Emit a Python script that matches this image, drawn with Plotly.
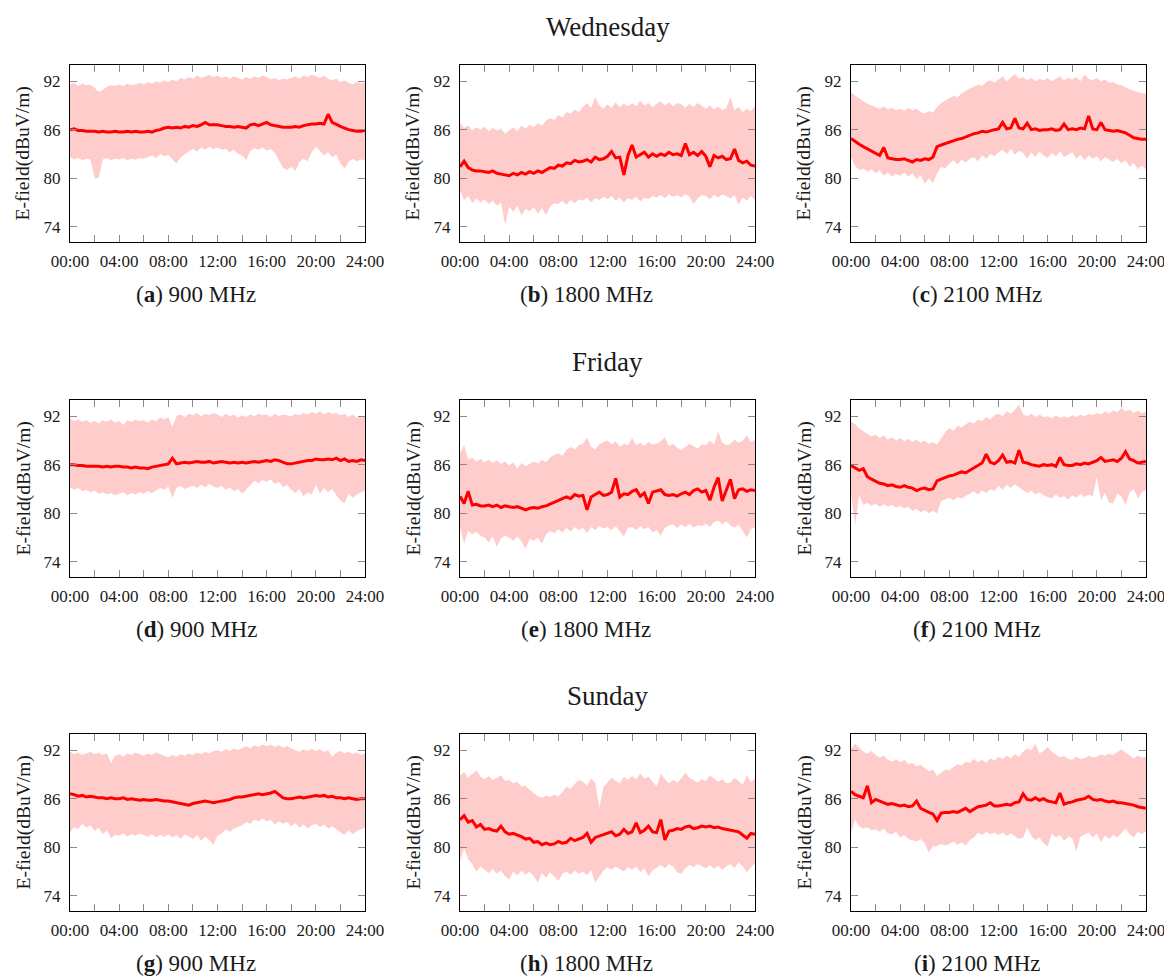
import plotly.graph_objects as go

# time grid (hours, 20-minute steps)
hours = [i / 3 for i in range(73)]

x_tick_vals = [0, 2, 4, 6, 8, 10, 12, 14, 16, 18, 20, 22, 24]
x_tick_text = ["00:00", "", "04:00", "", "08:00", "", "12:00", "", "16:00", "", "20:00", "", "24:00"]
y_tick_vals = [74, 80, 86, 92]

day_titles = ["Wednesday", "Friday", "Sunday"]
band_names = ["900 MHz", "1800 MHz", "2100 MHz"]
letters = ["a", "b", "c", "d", "e", "f", "g", "h", "i"]

# ---------------- Wednesday ----------------
wed_900_upper = [91.5, 91.8, 91.4, 91.7, 91.5, 91.6, 91.2, 90.7, 90.9, 91.3, 91.5, 91.4,
                 91.6, 91.4, 91.7, 91.5, 91.6, 91.8, 91.6, 91.9, 91.7, 92.0, 91.8, 92.1,
                 91.9, 92.2, 92.0, 92.4, 92.2, 92.5, 92.3, 92.7, 92.4, 92.6, 92.8, 92.5,
                 92.7, 92.4, 92.6, 92.3, 92.6, 92.4, 92.2, 92.5, 92.3, 92.6, 92.4, 92.7,
                 92.5, 92.2, 92.4, 92.1, 92.3, 92.2, 92.4, 92.6, 92.3, 92.7, 92.5, 92.8,
                 92.6, 92.4, 92.7, 92.3, 92.1, 92.3, 91.9, 92.1, 91.8, 91.6, 91.9, 91.7, 91.8]
wed_900_lower = [82.6, 82.3, 82.5, 82.2, 82.4, 82.3, 80.0, 80.0, 82.3, 82.5, 82.2, 82.4,
                 82.3, 82.5, 82.2, 82.4, 82.3, 82.5, 82.4, 82.6, 82.8, 82.5, 83.0, 82.7,
                 82.9, 82.3, 81.8, 82.6, 83.0, 83.3, 83.6, 83.3, 83.8, 83.5, 83.9, 83.6,
                 83.8, 83.5, 83.6, 83.2, 83.5, 83.0, 82.8, 82.2, 83.4, 83.7, 83.5, 83.8,
                 83.4, 83.6, 83.1, 82.2, 81.3, 81.0, 81.4, 80.9, 82.0, 82.4, 82.1, 83.2,
                 83.9, 83.4, 82.8, 83.2, 82.6, 82.9, 81.8, 81.2, 82.0, 82.4, 82.1, 82.3, 82.2]
wed_900_mean = [86.0, 86.1, 85.9, 85.9, 85.8, 85.8, 85.8, 85.7, 85.8, 85.7, 85.7, 85.8,
                85.7, 85.7, 85.8, 85.7, 85.8, 85.7, 85.7, 85.8, 85.7, 85.9, 86.0, 86.2,
                86.3, 86.2, 86.3, 86.2, 86.4, 86.3, 86.5, 86.4, 86.6, 86.9, 86.6, 86.6,
                86.6, 86.5, 86.4, 86.4, 86.3, 86.4, 86.3, 86.2, 86.6, 86.7, 86.5, 86.7,
                86.9, 86.6, 86.5, 86.4, 86.3, 86.3, 86.3, 86.4, 86.3, 86.5, 86.6, 86.7,
                86.7, 86.8, 86.7, 87.9, 86.9, 86.6, 86.4, 86.2, 86.0, 85.9, 85.8, 85.8, 85.9]

wed_1800_upper = [86.9, 86.2, 86.5, 85.9, 86.3, 86.0, 86.4, 85.8, 86.2, 85.9, 86.1, 85.5,
                  85.9, 86.3, 85.8, 86.5, 86.1, 86.6, 86.3, 86.8, 86.5, 87.1, 87.4, 87.2,
                  87.8, 87.5, 88.2, 88.0, 88.5, 88.2, 88.8, 89.3, 88.7, 90.0, 89.0, 88.6,
                  89.1, 88.7, 89.4, 88.8, 89.2, 88.9, 89.3, 88.9, 89.6, 89.0, 89.3, 88.8,
                  89.2, 89.5, 89.0, 89.4, 88.9, 89.3, 89.1, 88.7, 89.2, 88.8, 89.3, 88.9,
                  88.6, 89.0, 88.5, 88.9, 88.4, 88.7, 90.0, 88.4, 88.8, 88.2, 88.6, 88.3, 88.9]
wed_1800_lower = [78.5, 77.3, 77.8, 76.9, 77.5, 77.0, 77.4, 76.8, 77.2, 76.6, 77.0, 74.2,
                  76.5, 75.8, 76.6, 75.4, 76.2, 75.9, 76.4, 75.6, 76.3, 75.4, 76.5, 76.9,
                  76.8, 77.2, 76.7, 77.3, 76.9, 77.4, 77.2, 77.6, 77.0, 77.5, 77.3, 77.7,
                  77.4, 77.8, 77.2, 77.6, 77.0, 77.5, 77.3, 77.7, 77.1, 77.6, 77.4, 77.8,
                  77.6, 77.9, 77.5, 78.0, 77.7, 77.9, 77.6, 78.0, 77.7, 76.8, 77.5, 77.9,
                  77.8, 77.4, 77.9, 77.6, 78.0, 77.7, 77.5, 77.9, 76.7, 77.6, 77.2, 77.8, 77.3]
wed_1800_mean = [81.4, 82.1, 81.3, 81.0, 80.9, 80.9, 80.8, 80.7, 80.9, 80.6, 80.5, 80.4,
                 80.3, 80.6, 80.4, 80.7, 80.5, 80.8, 80.6, 80.9, 80.7, 81.0, 81.3, 81.2,
                 81.6, 81.5, 81.9, 81.8, 82.2, 82.0, 82.1, 82.3, 82.0, 82.6, 82.3, 82.4,
                 82.7, 83.3, 82.5, 82.6, 80.4, 82.8, 84.1, 82.6, 82.9, 83.2, 82.6, 83.0,
                 82.7, 83.0, 82.8, 83.2, 82.9, 83.0, 82.8, 84.3, 82.9, 83.2, 82.8, 83.3,
                 82.7, 81.4, 82.8, 82.5, 82.7, 82.3, 82.4, 83.6, 82.2, 81.9, 82.1, 81.6, 81.5]

wed_2100_upper = [90.6, 90.2, 89.8, 89.5, 89.2, 89.0, 88.8, 88.6, 88.9, 88.5, 88.7, 88.4,
                  88.6, 88.3, 88.7, 88.4, 88.6, 88.2, 88.0, 88.3, 88.1, 88.8, 89.3, 89.6,
                  89.8, 90.2, 90.0, 90.5, 90.8, 91.1, 91.3, 91.6, 91.4, 91.9, 92.1, 91.8,
                  92.2, 92.6, 92.0, 92.4, 92.9, 92.3, 92.5, 92.1, 92.4, 92.0, 92.3, 92.1,
                  92.4, 92.0, 92.3, 92.6, 92.1, 92.4, 92.2, 92.5, 92.0, 92.8, 92.3, 92.1,
                  92.4, 92.0, 92.2, 91.8, 91.9, 91.6, 91.5, 91.2, 91.0, 90.8, 90.6, 90.5, 90.4]
wed_2100_lower = [82.6, 81.5, 81.0, 81.2, 80.8, 81.1, 80.6, 81.0, 80.3, 80.7, 80.2, 80.5,
                  80.3, 80.7, 80.2, 80.6, 79.9, 80.4, 79.3, 80.0, 79.4, 80.6, 81.4, 81.2,
                  81.8, 82.2, 81.7, 82.3, 81.9, 82.4, 82.6, 82.1, 82.8, 82.4, 83.0, 82.7,
                  83.2, 83.5, 83.0, 83.6, 82.9, 83.4, 83.1, 82.4, 83.2, 82.6, 83.3, 82.8,
                  82.5, 83.1, 82.7, 83.3, 82.6, 82.9, 83.2, 82.4, 82.9, 82.2, 82.8, 82.4,
                  82.7, 82.1, 82.6, 82.3, 82.0, 82.4, 81.8, 82.2, 81.4, 81.9, 81.1, 81.6, 81.0]
wed_2100_mean = [84.9, 84.5, 84.2, 83.9, 83.6, 83.3, 83.0, 82.8, 83.8, 82.5, 82.4, 82.3,
                 82.3, 82.4, 82.2, 82.0, 82.3, 82.2, 82.4, 82.3, 82.6, 83.9, 84.1, 84.3,
                 84.5, 84.6, 84.8, 84.9, 85.1, 85.3, 85.5, 85.6, 85.8, 85.7, 85.9, 86.0,
                 86.1, 86.9, 86.1, 86.2, 87.4, 86.2, 86.1, 86.8, 86.0, 86.1, 85.9, 86.0,
                 86.0, 86.1, 85.9, 86.0, 86.7, 86.0, 86.1, 86.0, 86.2, 86.1, 87.7, 86.1,
                 86.0, 86.9, 86.0, 85.9, 85.8, 85.9, 85.7, 85.6, 85.3, 85.0, 84.9, 84.8, 84.8]

# ---------------- Friday ----------------
fri_900_upper = [91.7, 91.4, 91.6, 91.3, 91.5, 91.2, 91.4, 91.1, 91.5, 91.3, 91.6, 91.2,
                 91.4, 90.9, 91.5, 91.3, 91.6, 91.4, 91.5, 91.2, 91.6, 91.4, 91.8, 91.6,
                 91.9, 90.7, 92.0, 92.2, 91.9, 92.3, 92.1, 92.4, 92.0, 92.3, 92.1, 92.4,
                 92.2, 91.9, 92.3, 92.0, 92.2, 91.8, 92.1, 91.9, 92.2, 92.0, 92.3, 92.1,
                 92.2, 91.9, 92.3, 92.0, 92.2, 92.1, 92.0, 92.3, 92.1, 92.4, 92.2, 92.5,
                 92.3, 92.6, 92.2, 92.5, 92.3, 92.4, 92.1, 92.3, 91.9, 92.2, 91.8, 92.0, 91.9]
fri_900_lower = [83.2, 82.9, 83.1, 82.7, 82.9, 82.6, 82.8, 82.4, 82.6, 82.3, 82.5, 82.2,
                 82.4, 82.6, 82.2, 82.5, 82.3, 82.6, 82.4, 82.7, 82.5, 82.8, 83.1, 82.9,
                 83.3, 81.9, 83.1, 83.4, 83.0, 83.2, 83.4, 83.1, 83.5, 83.2, 83.6, 83.3,
                 83.1, 83.4, 82.9, 83.2, 82.7, 83.0, 82.4, 82.9, 83.5, 84.0, 83.7, 84.1,
                 83.9, 84.2, 83.6, 83.9, 83.2, 83.5, 82.9, 82.5, 83.0, 82.1, 82.6, 82.3,
                 83.5, 82.4, 83.1, 82.6, 83.0, 82.2, 81.6, 81.2, 82.4, 81.9, 82.3, 82.6, 82.8]
fri_900_mean = [86.0, 86.0, 85.9, 85.9, 85.8, 85.8, 85.8, 85.8, 85.7, 85.8, 85.7, 85.8,
                85.8, 85.7, 85.7, 85.6, 85.7, 85.6, 85.6, 85.5, 85.7, 85.8, 85.9, 86.0,
                86.1, 86.8, 86.1, 86.2, 86.3, 86.2, 86.3, 86.4, 86.3, 86.3, 86.4, 86.2,
                86.3, 86.4, 86.3, 86.2, 86.3, 86.2, 86.3, 86.2, 86.3, 86.4, 86.3, 86.4,
                86.5, 86.4, 86.6, 86.5, 86.3, 86.1, 86.1, 86.2, 86.3, 86.4, 86.5, 86.5,
                86.7, 86.6, 86.6, 86.7, 86.6, 86.8, 86.5, 86.7, 86.4, 86.5, 86.4, 86.6, 86.5]

fri_1800_upper = [87.4, 88.4, 86.6, 86.9, 86.4, 86.7, 86.3, 86.6, 86.2, 86.5, 86.1, 86.4,
                  85.9, 86.3, 85.5, 86.2, 85.8, 86.1, 86.4, 86.1, 86.6, 86.3, 86.9, 87.2,
                  87.4, 87.1, 87.8, 88.2, 87.9, 88.4, 88.6, 89.4, 88.2, 87.9, 88.5, 88.8,
                  89.0, 88.5, 88.9, 88.2, 88.6, 88.4, 89.3, 88.4, 88.7, 88.3, 88.8, 88.5,
                  88.6, 88.9, 89.4, 88.3, 88.6, 88.1, 87.8, 88.2, 88.6, 88.3, 88.0, 88.5,
                  88.4, 89.0, 88.5, 90.1, 88.7, 88.4, 88.6, 89.1, 88.7, 89.0, 89.6, 88.8, 89.1]
fri_1800_lower = [78.3, 76.2, 77.8, 77.4, 77.7, 77.2, 77.0, 76.4, 77.1, 75.8, 76.9, 77.2,
                  77.0, 76.6, 77.1, 76.5, 75.6, 76.8, 76.6, 77.0, 76.2, 77.4, 77.8, 77.5,
                  78.0, 77.6, 78.2, 77.7, 78.3, 77.9, 78.2, 77.5, 78.3, 77.9, 78.4, 78.1,
                  78.3, 77.9, 78.4, 77.8, 77.1, 78.2, 78.3, 77.9, 78.4, 78.0, 78.3, 77.6,
                  77.9, 77.2, 78.2, 78.5, 78.6, 78.2, 78.6, 78.3, 78.7, 78.2, 78.5, 78.4,
                  78.7, 78.3, 78.9, 79.1, 78.6, 79.0, 78.5, 78.2, 78.6, 77.8, 77.0, 78.0, 78.3]
fri_1800_mean = [82.1, 81.2, 82.7, 81.0, 81.1, 80.9, 80.9, 81.0, 80.8, 81.0, 80.7, 80.9,
                 80.8, 80.7, 80.8, 80.6, 80.4, 80.6, 80.7, 80.6, 80.8, 80.9, 81.1, 81.3,
                 81.6, 81.8, 82.0, 81.8, 82.3, 82.1, 82.2, 80.4, 82.0, 82.3, 82.6, 82.2,
                 82.3, 82.6, 84.3, 82.0, 82.4, 82.3, 82.7, 82.9, 82.1, 82.5, 81.2, 82.6,
                 82.8, 82.9, 82.3, 82.2, 82.3, 82.1, 82.4, 82.6, 82.3, 82.8, 83.0, 82.6,
                 82.8, 81.6, 83.2, 84.4, 81.5, 82.9, 84.2, 81.8, 82.9, 83.0, 82.7, 82.9, 82.8]

fri_2100_upper = [91.3, 91.0, 90.5, 90.1, 89.8, 89.5, 89.7, 89.3, 89.6, 89.1, 89.4, 89.0,
                  89.3, 88.9, 89.2, 88.8, 89.1, 88.7, 89.0, 88.6, 88.8, 88.5, 89.3, 90.0,
                  90.5, 90.2, 90.8, 90.6, 91.0, 91.3, 91.1, 91.6, 91.4, 91.9, 91.6, 92.1,
                  92.3, 92.0, 92.6, 92.3, 92.8, 93.4, 92.2, 92.0, 92.3, 91.9, 92.2, 91.9,
                  92.0, 91.7, 92.1, 91.8, 92.0, 91.8, 92.1, 91.9, 92.2, 92.0, 92.3, 92.1,
                  92.4, 92.2, 92.6, 92.3, 92.7, 92.5, 93.0, 92.6, 92.8, 92.4, 92.7, 92.4, 92.5]
fri_2100_lower = [82.4, 78.5, 82.2, 81.0, 81.3, 80.9, 81.2, 80.8, 81.1, 80.8, 81.0, 80.7,
                  80.9, 80.6, 80.8, 80.3, 80.5, 80.1, 80.4, 80.0, 80.3, 80.0, 81.5, 81.7,
                  81.9, 81.6, 82.0, 81.8, 82.1, 82.4, 82.7, 82.3, 82.8, 82.5, 83.0, 82.7,
                  83.4, 82.9, 83.5, 83.1, 83.6, 83.2, 82.9, 82.5, 82.8, 82.3, 82.6, 82.2,
                  82.0, 81.8, 82.3, 81.9, 82.1, 81.7, 82.2, 81.9, 82.4, 82.0, 82.3, 82.1,
                  84.5, 81.6, 82.5, 81.3, 81.2, 82.4, 82.1, 81.0, 82.6, 83.0, 81.8, 82.6, 82.9]
fri_2100_mean = [85.9, 85.6, 85.3, 85.5, 84.5, 84.2, 83.9, 83.7, 83.6, 83.4, 83.5, 83.3,
                 83.2, 83.4, 83.2, 83.1, 82.8, 83.0, 83.1, 82.9, 83.0, 84.0, 84.2, 84.4,
                 84.6, 84.7, 84.9, 85.1, 85.0, 85.3, 85.5, 85.8, 86.2, 87.3, 86.3, 86.1,
                 86.5, 87.2, 86.3, 86.4, 86.2, 87.8, 86.3, 86.2, 86.0, 85.9, 85.8, 86.0,
                 85.9, 86.0, 85.8, 86.9, 86.0, 85.9, 85.9, 86.1, 86.0, 86.2, 86.1, 86.3,
                 86.5, 86.9, 86.4, 86.5, 86.6, 86.4, 86.8, 87.6, 86.7, 86.5, 86.2, 86.3, 86.4]

# ---------------- Sunday ----------------
sun_900_upper = [91.8, 91.5, 91.7, 91.4, 91.6, 91.8, 91.5, 91.7, 91.4, 91.6, 90.4, 91.3,
                 91.5, 91.2, 91.6, 91.4, 91.7, 91.5, 91.3, 91.6, 91.4, 91.7, 91.5, 91.3,
                 91.1, 91.4, 91.2, 91.5, 91.3, 91.6, 91.4, 91.7, 91.5, 91.8, 91.6, 91.9,
                 92.0, 91.8, 92.1, 91.9, 92.2, 92.0, 92.3, 92.5, 92.2, 92.6, 92.4, 92.7,
                 92.5, 92.7, 92.4, 92.6, 92.3, 92.5, 92.2, 92.0, 91.8, 92.1, 91.9, 92.2,
                 91.9, 92.1, 91.8, 92.0, 91.2, 91.7, 91.9, 91.6, 91.8, 91.5, 91.7, 91.4, 91.6]
sun_900_lower = [81.8, 82.5, 82.2, 82.9, 82.4, 82.7, 82.0, 82.4, 81.6, 82.1, 81.1, 81.5,
                 81.4, 81.7, 81.3, 81.6, 81.4, 81.7, 81.5, 81.3, 81.6, 81.2, 81.5, 81.3,
                 81.6, 81.2, 81.5, 81.0, 81.6, 81.3, 81.0, 81.5, 80.8, 81.3, 80.9, 80.3,
                 81.4, 81.7, 82.2, 81.9, 82.3, 82.5, 82.7, 83.1, 82.9, 83.4, 83.2, 83.5,
                 83.2, 83.4, 82.8, 83.2, 82.9, 83.1, 82.6, 83.0, 82.4, 82.8, 82.3, 82.7,
                 82.9, 82.5, 82.8, 82.3, 82.6, 82.2, 81.9, 81.5, 82.1, 81.6, 82.0, 82.2, 82.4]
sun_900_mean = [86.6, 86.5, 86.3, 86.4, 86.2, 86.3, 86.2, 86.1, 86.1, 86.0, 86.1, 86.0,
                86.0, 86.1, 85.9, 86.0, 85.9, 85.8, 85.9, 85.8, 85.8, 85.9, 85.8, 85.7,
                85.7, 85.6, 85.5, 85.4, 85.3, 85.2, 85.4, 85.5, 85.6, 85.7, 85.6, 85.5,
                85.6, 85.7, 85.8, 85.9, 86.1, 86.2, 86.2, 86.3, 86.4, 86.5, 86.6, 86.5,
                86.6, 86.7, 86.9, 86.5, 86.1, 86.0, 86.0, 86.1, 86.2, 86.1, 86.2, 86.3,
                86.4, 86.3, 86.4, 86.2, 86.3, 86.1, 86.1, 86.0, 86.1, 86.0, 85.9, 86.0, 86.0]

sun_1800_upper = [88.9, 89.3, 88.6, 89.0, 89.5, 88.7, 88.4, 88.8, 88.3, 88.6, 88.9, 88.2,
                  88.3, 87.9, 88.1, 87.5, 87.6, 87.1, 86.7, 86.3, 86.1, 86.4, 86.2, 86.5,
                  86.3, 86.8, 87.5, 87.2, 87.8, 88.3, 88.1, 87.6, 88.5, 88.0, 84.9, 87.4,
                  88.0, 88.6, 88.2, 87.9, 88.7, 88.3, 88.8, 88.4, 89.1, 88.5, 88.7, 88.1,
                  87.5, 89.1, 88.4, 87.9, 88.3, 88.0, 88.5, 89.2, 88.6, 88.3, 88.0, 88.4,
                  88.2, 88.9, 88.5, 88.1, 88.4, 87.9, 88.0, 88.6, 88.2, 87.7, 88.9, 88.1, 88.5]
sun_1800_lower = [78.3, 79.9, 78.5, 77.9, 77.0, 77.6, 77.2, 76.8, 77.3, 76.7, 77.1, 76.4,
                  76.0, 77.0, 76.5, 77.1, 76.6, 77.0, 76.4, 75.6, 76.8, 76.2, 76.9, 76.4,
                  75.8, 76.7, 77.0, 76.6, 77.1, 76.7, 77.0, 76.5, 77.2, 75.6, 76.4, 77.1,
                  77.5, 77.2, 77.6, 77.3, 77.0, 77.5, 77.2, 77.6, 76.9, 77.4, 76.4, 77.1,
                  77.5, 77.8, 77.4, 77.9, 77.6, 76.9, 76.7, 77.4, 77.8, 77.5, 77.9, 77.6,
                  77.4, 77.8, 77.3, 77.7, 77.2, 77.6, 77.9, 77.4, 78.1, 77.6, 76.9, 77.5, 78.0]
sun_1800_mean = [83.4, 83.9, 83.1, 83.3, 82.5, 82.8, 82.2, 82.3, 82.1, 82.0, 82.6, 81.9,
                 81.6, 81.7, 81.5, 81.3, 81.0, 81.1, 80.6, 80.7, 80.3, 80.5, 80.3, 80.4,
                 80.7, 80.5, 80.6, 81.1, 80.8, 81.0, 81.2, 81.7, 80.6, 81.2, 81.4, 81.6,
                 81.7, 81.9, 81.4, 81.6, 82.2, 81.7, 81.9, 83.0, 81.8, 82.1, 82.6, 81.9,
                 81.8, 83.4, 80.9, 82.0, 82.1, 82.3, 82.2, 82.5, 82.6, 82.3, 82.4, 82.6,
                 82.5, 82.6, 82.4, 82.5, 82.3, 82.2, 82.1, 82.0, 81.9, 81.5, 81.1, 81.7, 81.6]

sun_2100_upper = [92.2, 92.8, 92.3, 91.8, 91.6, 91.9, 91.4, 91.1, 91.3, 90.8, 90.6, 90.9,
                  90.5, 90.8, 90.3, 90.4, 90.0, 90.2, 89.8, 89.4, 89.6, 88.8, 89.2, 89.6,
                  89.5, 89.9, 90.3, 90.1, 90.6, 90.4, 90.9, 90.5, 90.8, 90.4, 91.0, 90.7,
                  91.2, 90.9, 91.3, 91.0, 91.5, 91.2, 91.8, 92.2, 92.0, 92.8, 91.6, 91.9,
                  92.4, 91.8, 91.4, 91.1, 91.3, 90.9, 90.8, 91.2, 90.9, 91.0, 91.3, 91.1,
                  91.2, 91.5, 91.3, 91.6, 91.4, 91.8, 92.1, 91.7, 91.4, 91.0, 91.3, 91.1, 91.2]
sun_2100_lower = [81.8, 83.4, 82.6, 82.3, 82.5, 82.1, 82.2, 81.9, 82.3, 81.7, 81.6, 81.9,
                  81.2, 81.5, 81.0, 80.8, 80.7, 81.0, 80.5, 79.3, 80.1, 80.1, 80.4, 80.2,
                  80.4, 80.7, 80.3, 80.6, 80.2, 80.9, 81.2, 81.8, 81.5, 81.9, 81.6, 81.8,
                  81.5, 81.8, 81.4, 81.7, 81.3, 81.0, 81.2, 82.4, 81.4, 80.9, 81.2, 80.5,
                  80.1, 81.7, 81.2, 81.5, 80.8, 81.3, 81.1, 79.5, 81.3, 81.6, 81.8, 81.2,
                  81.7, 80.6, 81.4, 81.0, 81.5, 81.2, 81.8, 82.3, 81.6, 81.2, 81.9, 81.6, 82.0]
sun_2100_mean = [86.9, 86.5, 86.3, 86.1, 87.6, 85.5, 85.9, 85.7, 85.5, 85.3, 85.4, 85.2,
                 85.1, 85.2, 85.0, 85.1, 85.7, 84.8, 84.5, 84.3, 84.1, 83.3, 84.2, 84.3,
                 84.3, 84.4, 84.3, 84.5, 84.8, 84.4, 84.7, 85.0, 85.1, 85.2, 85.5, 85.1,
                 85.1, 85.2, 85.3, 85.2, 85.5, 85.6, 86.6, 85.9, 85.8, 86.1, 85.8, 86.0,
                 85.7, 85.6, 85.5, 86.7, 85.3, 85.5, 85.6, 85.8, 85.9, 86.0, 86.3, 85.9,
                 85.8, 85.9, 85.7, 85.6, 85.7, 85.5, 85.5, 85.4, 85.3, 85.2, 85.0, 84.9, 84.8]

panels = [
    (wed_900_lower, wed_900_upper, wed_900_mean),
    (wed_1800_lower, wed_1800_upper, wed_1800_mean),
    (wed_2100_lower, wed_2100_upper, wed_2100_mean),
    (fri_900_lower, fri_900_upper, fri_900_mean),
    (fri_1800_lower, fri_1800_upper, fri_1800_mean),
    (fri_2100_lower, fri_2100_upper, fri_2100_mean),
    (sun_900_lower, sun_900_upper, sun_900_mean),
    (sun_1800_lower, sun_1800_upper, sun_1800_mean),
    (sun_2100_lower, sun_2100_upper, sun_2100_mean),
]

# ---------------- layout geometry (page pixels) ----------------
# the page body has an 8px margin, so the figure is made 8px smaller and every
# page position is shifted by 8px into figure coordinates
OFF = 8
W, H = 1172 - OFF, 977 - OFF
col_left = [70 - OFF, 460 - OFF, 851 - OFF]
col_w = 295
row_top = [65 - OFF, 400 - OFF, 734 - OFF]
row_h = 177
title_x = 608 - OFF

FONT = "Liberation Serif"
BAND = "#ffcccc"
LINE = "#ff0000"

fig = go.Figure()
layout = dict(
    width=W, height=H, margin=dict(l=0, r=0, t=0, b=0, autoexpand=False),
    paper_bgcolor="white", plot_bgcolor="white", showlegend=False,
    font=dict(family=FONT, size=17, color="#1a1a1a"),
)
annotations = []

for k, (lo, up, me) in enumerate(panels):
    r, c = divmod(k, 3)
    ax = "" if k == 0 else str(k + 1)
    xa, ya = "x" + ax, "y" + ax
    fig.add_trace(go.Scatter(x=hours, y=lo, mode="lines", line=dict(width=0, color=BAND),
                             xaxis=xa, yaxis=ya, hoverinfo="skip"))
    fig.add_trace(go.Scatter(x=hours, y=up, mode="lines", line=dict(width=0, color=BAND),
                             fill="tonexty", fillcolor=BAND, xaxis=xa, yaxis=ya, hoverinfo="skip"))
    fig.add_trace(go.Scatter(x=hours, y=me, mode="lines", line=dict(width=3, color=LINE),
                             xaxis=xa, yaxis=ya))
    x0 = col_left[c] / W
    x1 = (col_left[c] + col_w) / W
    y1 = 1 - row_top[r] / H
    y0 = 1 - (row_top[r] + row_h) / H
    common = dict(showline=True, linecolor="black", linewidth=1, mirror="ticks",
                  ticks="inside", ticklen=7, tickcolor="#8a8a8a", tickwidth=1,
                  showgrid=False, zeroline=False, fixedrange=True, automargin=False,
                  tickfont=dict(family=FONT, size=17, color="#1a1a1a"))
    layout["xaxis" + ax] = dict(domain=[x0, x1], range=[0, 24], tickvals=x_tick_vals,
                                ticktext=x_tick_text, anchor=ya, ticklabelstandoff=4, **common)
    layout["yaxis" + ax] = dict(domain=[y0, y1], range=[72.1, 94.0], tickvals=y_tick_vals,
                                anchor=xa, ticklabelstandoff=5, **common)
    # y-axis title
    annotations.append(dict(text="E-field(dBuV/m)", textangle=-90, showarrow=False,
                            xref="paper", yref="paper",
                            x=(col_left[c] - 47) / W, y=1 - (row_top[r] + row_h / 2) / H,
                            xanchor="center", yanchor="middle",
                            font=dict(family=FONT, size=19.5, color="#1a1a1a")))
    # sub caption
    annotations.append(dict(text="(<b>%s</b>) %s" % (letters[k], band_names[c]), showarrow=False,
                            xref="paper", yref="paper",
                            x=(col_left[c] + 126) / W, y=1 - (row_top[r] + 229) / H,
                            xanchor="center", yanchor="middle",
                            font=dict(family=FONT, size=23, color="#1a1a1a")))

for r in range(3):
    annotations.append(dict(text=day_titles[r], showarrow=False, xref="paper", yref="paper",
                            x=title_x / W, y=1 - (row_top[r] - 38) / H,
                            xanchor="center", yanchor="middle",
                            font=dict(family=FONT, size=27, color="#1a1a1a")))

layout["annotations"] = annotations
fig.update_layout(**layout)
fig.write_html("out.html")
